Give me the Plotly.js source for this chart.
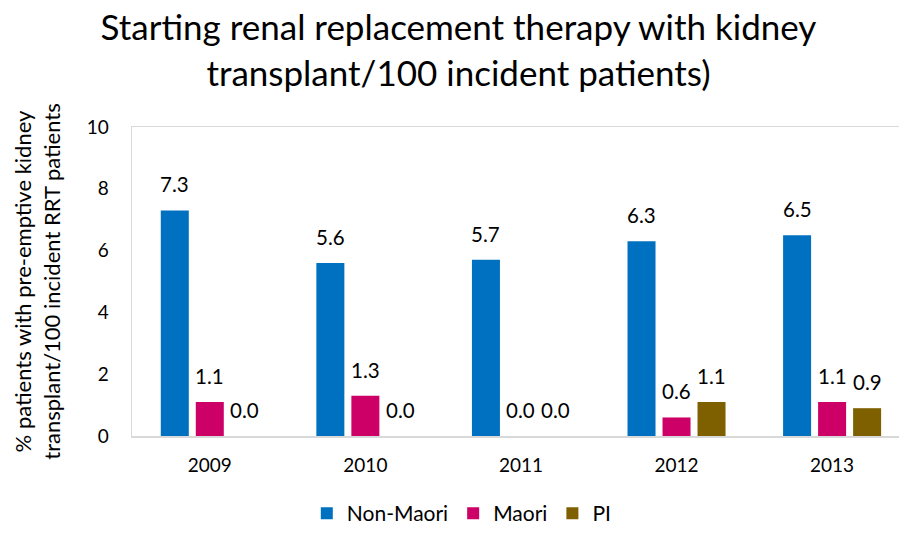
<!DOCTYPE html>
<html>
<head>
<meta charset="utf-8">
<script src="https://cdn.plot.ly/plotly-3.0.1.min.js"></script>
<style>html,body{margin:0;padding:0;background:#fff;}#chart{width:899px;height:534px;}</style>
</head>
<body>
<div id="chart"></div>
<script>
const years = ["2009", "2010", "2011", "2012", "2013"];
const seriesNames = ["Non-Maori", "Maori", "PI"];
const nonMaori = [7.3, 5.6, 5.7, 6.3, 6.5];
const maori = [1.1, 1.3, 0.0, 0.6, 1.1];
const pi = [0.0, 0.0, 0.0, 1.1, 0.9];
const colors = ["#0070C0", "#CC0066", "#7F6000"];

const FONT = "Lato, 'Open Sans', sans-serif";
const allSeries = [nonMaori, maori, pi];

const traces = allSeries.map((vals, i) => ({
  type: "bar",
  name: seriesNames[i],
  x: years,
  y: vals,
  marker: {color: colors[i]},
  hoverinfo: "skip"
}));

const slotPx = 35;
const annotations = [];
allSeries.forEach((vals, i) => {
  vals.forEach((v, j) => {
    annotations.push({
      x: j, y: v, xref: "x", yref: "y",
      text: v.toFixed(1), showarrow: false,
      yanchor: "bottom", xanchor: "center",
      xshift: (i - 1) * slotPx, yshift: 12,
      font: {family: FONT, size: 20.5, color: "#000"}
    });
  });
});

const layout = {
  width: 899, height: 534,
  margin: {l: 132, r: 0, t: 127, b: 97},
  paper_bgcolor: "#fff", plot_bgcolor: "#fff",
  font: {family: FONT, color: "#000"},
  title: {
    text: "Starting renal replacement therapy with kidney<br>transplant/100 incident patients)",
    font: {family: FONT, size: 35, color: "#000"},
    x: 0.51, xref: "container", xanchor: "center",
    y: 0.925, yref: "container", yanchor: "top"
  },
  barmode: "group",
  bargap: 0.325,
  bargroupgap: 0.2,
  xaxis: {
    type: "category",
    range: [-0.5, 4.43],
    showline: true, linecolor: "#D9D9D9", linewidth: 1.5, mirror: true,
    showgrid: false, ticks: "", zeroline: false,
    tickfont: {family: FONT, size: 19, color: "#000"},
    ticklabelstandoff: 12,
    fixedrange: true
  },
  yaxis: {
    range: [0, 10], dtick: 2,
    showline: true, linecolor: "#D9D9D9", linewidth: 1.5, mirror: false,
    showgrid: false, ticks: "", zeroline: false,
    tickfont: {family: FONT, size: 19, color: "#000"},
    ticklabelstandoff: 18,
    automargin: true,
    title: {
      text: "% patients with pre-emptive kidney<br>transplant/100 incident RRT patients",
      font: {family: FONT, size: 22, color: "#000"},
      standoff: 20
    },
    fixedrange: true
  },
  legend: {
    orientation: "h",
    x: 0.43, xref: "paper", xanchor: "center",
    y: -0.316, yref: "paper", yanchor: "bottom",
    font: {family: FONT, size: 21, color: "#000"},
    itemwidth: 30
  },
  annotations: annotations,
  showlegend: true
};

Plotly.newPlot("chart", traces, layout, {displayModeBar: false, staticPlot: true});
</script>
</body>
</html>
